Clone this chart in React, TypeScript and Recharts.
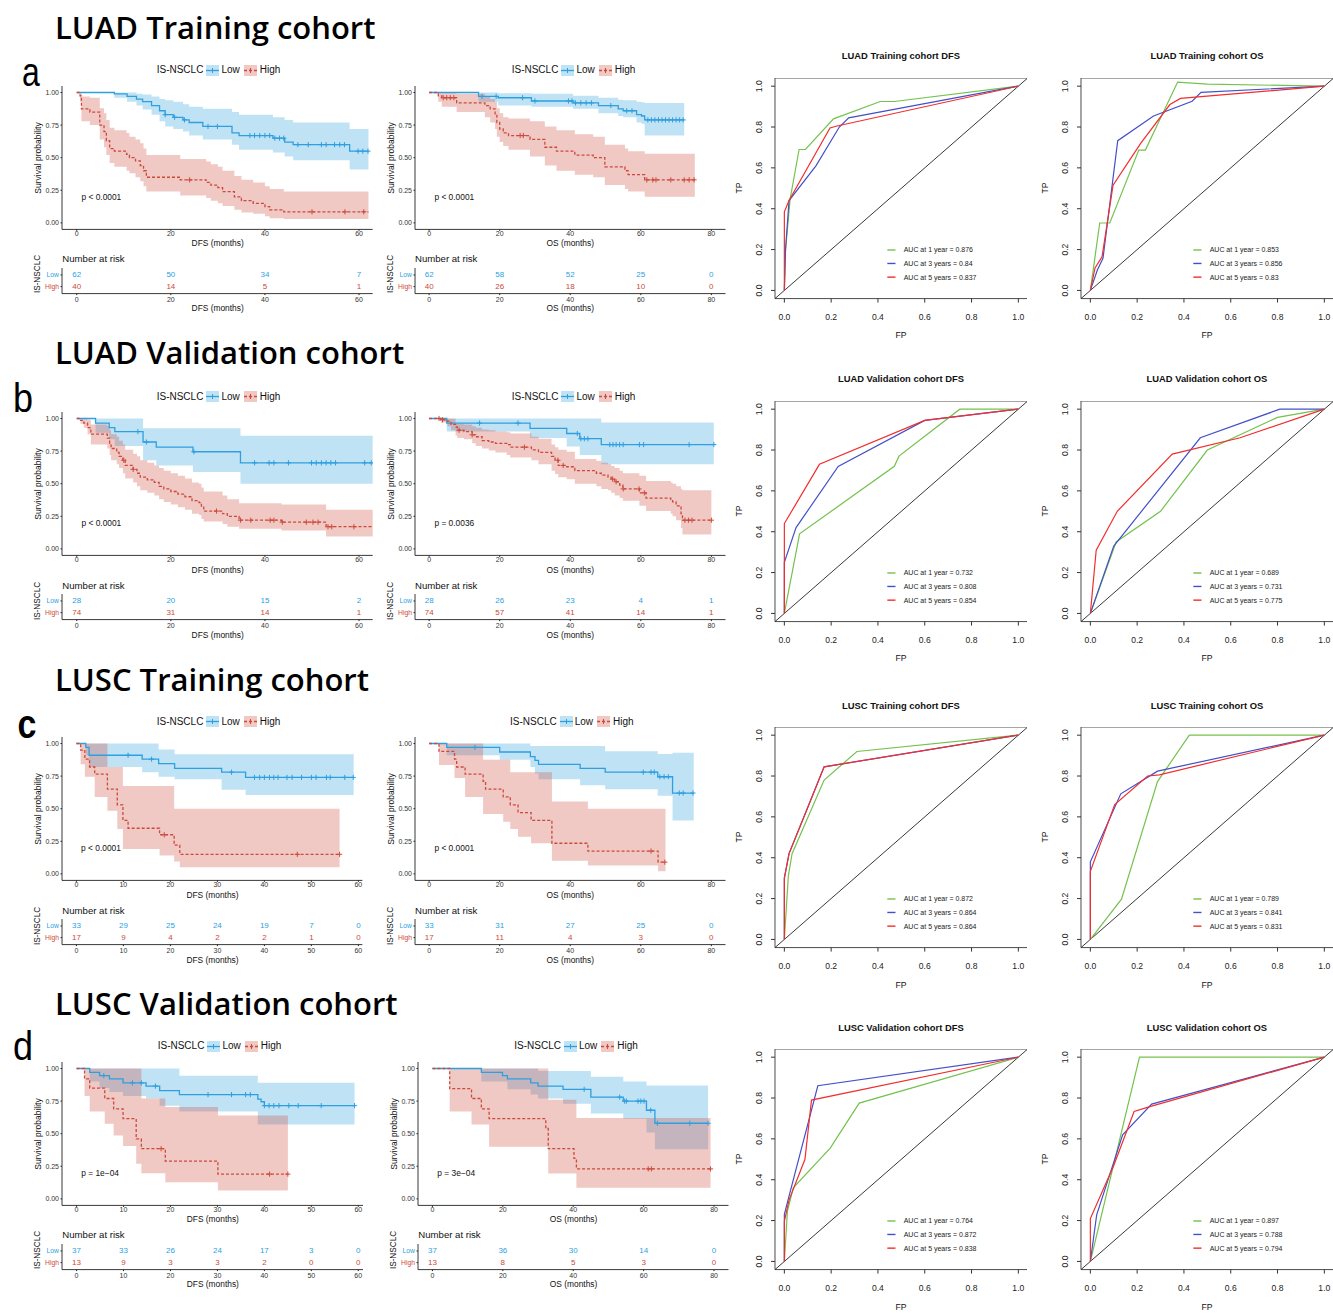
import React from 'react';
import {
  ComposedChart,
  LineChart,
  Line,
  Area,
  Scatter,
  XAxis,
  YAxis,
  ReferenceLine,
  ReferenceArea,
  ReferenceDot,
} from 'recharts';

type Step = [number, number];
type Band = [number, number, number];
type Pt = [number, number];

const FONT = '"Liberation Sans", Arial, Helvetica, sans-serif';
const LOW_COL = '#2E9FDF';
const HIGH_COL = '#CC4A3B';
const ROC_COLS = ['#74c24d', '#4450c8', '#f22e2e'];

const ROW_TITLES = ['LUAD Training cohort', 'LUAD Validation cohort', 'LUSC Training cohort', 'LUSC Validation cohort'];
const LETTERS = ['a', 'b', 'c', 'd'];
const GROUPS = ['Low', 'High'];
const LEGEND_TITLE = 'IS-NSCLC';
const AUC_LABELS = ['AUC at 1 year', 'AUC at 3 years', 'AUC at 5 years'];
const KM_Y_TICKS = [0, 0.25, 0.5, 0.75, 1];
const ROC_TICKS = [0, 0.2, 0.4, 0.6, 0.8, 1];
const T60 = [0, 20, 40, 60];
const T10 = [0, 10, 20, 30, 40, 50, 60];
const T80 = [0, 20, 40, 60, 80];

// ---- a: LUAD training ----
const a1LowSurv: Step[] = [[0, 1], [8, 0.99], [10.7, 0.97], [12.7, 0.95], [14, 0.93], [15.9, 0.9], [17.6, 0.86], [18.8, 0.83], [20.5, 0.81], [22.6, 0.79], [23.9, 0.77], [26.8, 0.74], [33, 0.69], [34.5, 0.67], [41.7, 0.65], [44.2, 0.62], [46, 0.6], [58, 0.55]];
const a1LowBand: Band[] = [[0, 1, 1], [8, 0.96, 1], [10.7, 0.93, 1], [12.7, 0.9, 0.99], [14, 0.87, 0.985], [15.9, 0.83, 0.97], [17.6, 0.78, 0.95], [18.8, 0.74, 0.94], [20.5, 0.72, 0.93], [22.6, 0.7, 0.91], [23.9, 0.67, 0.89], [26.8, 0.64, 0.875], [33, 0.6, 0.85], [34.5, 0.56, 0.83], [41.7, 0.54, 0.81], [44.2, 0.51, 0.79], [46, 0.48, 0.77], [58, 0.41, 0.72]];
const a1LowCens = [18.8, 20.8, 22.9, 27.9, 29.9, 36.8, 37.8, 38.9, 40, 41, 42.1, 43.1, 44, 47, 49.2, 52, 53, 54.8, 55.9, 56.9, 59.8, 60.8, 61.9];
const a1HighSurv: Step[] = [[0, 1], [0.7, 0.975], [1, 0.875], [2.8, 0.85], [4.9, 0.75], [5.8, 0.7], [6.3, 0.63], [7, 0.57], [8, 0.55], [10.6, 0.525], [11.2, 0.5], [12.5, 0.475], [13.5, 0.44], [14.2, 0.4], [14.8, 0.35], [22, 0.33], [27.5, 0.31], [28.5, 0.29], [30, 0.27], [31, 0.24], [33.5, 0.2], [35, 0.17], [37.5, 0.15], [40, 0.125], [41, 0.1], [44, 0.085]];
const a1HighBand: Band[] = [[0, 1, 1], [0.7, 0.93, 1], [1, 0.78, 0.97], [2.8, 0.75, 0.96], [4.9, 0.64, 0.88], [5.8, 0.58, 0.84], [6.3, 0.52, 0.79], [7, 0.46, 0.73], [8, 0.43, 0.71], [10.6, 0.4, 0.69], [11.2, 0.38, 0.66], [12.5, 0.35, 0.64], [13.5, 0.32, 0.61], [14.2, 0.28, 0.57], [14.8, 0.24, 0.52], [22, 0.21, 0.49], [27.5, 0.19, 0.47], [28.5, 0.17, 0.45], [30, 0.15, 0.43], [31, 0.13, 0.4], [33.5, 0.1, 0.36], [35, 0.08, 0.33], [37.5, 0.07, 0.31], [40, 0.05, 0.28], [41, 0.035, 0.26], [44, 0.03, 0.24]];
const a1HighCens = [24, 50, 57, 61];
const a1RiskLow = [62, 50, 34, 7];
const a1RiskHigh = [40, 14, 5, 1];

const a2LowSurv: Step[] = [[0, 1], [14, 0.97], [19.6, 0.96], [29, 0.935], [40.8, 0.92], [48, 0.9], [53.6, 0.875], [55, 0.86], [58.8, 0.83], [60.2, 0.82], [61.1, 0.79]];
const a2LowBand: Band[] = [[0, 1, 1], [14, 0.93, 1], [19.6, 0.9, 0.995], [29, 0.89, 0.99], [40.8, 0.875, 0.975], [48, 0.84, 0.96], [53.6, 0.82, 0.945], [55, 0.81, 0.94], [58.8, 0.77, 0.93], [60.2, 0.76, 0.925], [61.1, 0.67, 0.92]];
const a2LowCens = [15, 19, 26.5, 30, 39.5, 40.5, 41.5, 43, 44.5, 46, 51.5, 56, 57.5, 62, 63, 64, 65, 66, 67, 68, 69, 70, 71, 72];
const a2HighSurv: Step[] = [[0, 1], [2.6, 0.975], [3.6, 0.96], [7.8, 0.92], [15.8, 0.9], [17.3, 0.875], [18.7, 0.83], [19.2, 0.77], [20, 0.72], [21, 0.69], [22.5, 0.67], [28.6, 0.64], [32.8, 0.58], [36.1, 0.55], [41.3, 0.52], [46.5, 0.5], [49.8, 0.43], [55.5, 0.4], [56.4, 0.37], [61.1, 0.33]];
const a2HighBand: Band[] = [[0, 1, 1], [2.6, 0.93, 1], [3.6, 0.89, 1], [7.8, 0.85, 0.99], [15.8, 0.81, 0.97], [17.3, 0.77, 0.95], [18.7, 0.72, 0.93], [19.2, 0.66, 0.88], [20, 0.62, 0.84], [21, 0.59, 0.81], [22.5, 0.56, 0.8], [28.6, 0.51, 0.78], [32.8, 0.44, 0.74], [36.1, 0.4, 0.71], [41.3, 0.37, 0.68], [46.5, 0.35, 0.66], [49.8, 0.29, 0.6], [55.5, 0.26, 0.57], [56.4, 0.24, 0.55], [61.1, 0.2, 0.53]];
const a2HighCens = [4, 5, 6, 7, 25.8, 26.7, 61.7, 63.4, 64.3, 68.5, 72.3, 73.7, 75.1];
const a2RiskLow = [62, 58, 52, 25, 0];
const a2RiskHigh = [40, 26, 18, 10, 0];

// ---- b: LUAD validation ----
const b1LowSurv: Step[] = [[0, 1], [4, 0.965], [6.9, 0.93], [8.1, 0.9], [14.1, 0.82], [16.9, 0.78], [24.7, 0.745], [34.8, 0.66]];
const b1LowBand: Band[] = [[0, 1, 1], [4, 0.89, 1], [6.9, 0.84, 1], [8.1, 0.79, 1], [14.1, 0.68, 0.925], [16.9, 0.64, 0.925], [24.7, 0.59, 0.925], [34.8, 0.5, 0.867]];
const b1LowCens = [13, 14.8, 24.9, 37.8, 40.9, 41.9, 45, 49.9, 50.9, 52, 53, 54, 55, 61.2, 62.6];
const b1HighSurv: Step[] = [[0, 1], [0.8, 0.985], [1.5, 0.965], [2.3, 0.93], [3, 0.88], [6.5, 0.85], [7, 0.81], [7.3, 0.77], [8.5, 0.74], [9, 0.71], [9.8, 0.68], [10.3, 0.64], [12, 0.61], [12.8, 0.58], [13.5, 0.55], [15, 0.53], [16.5, 0.51], [17.5, 0.48], [18.5, 0.46], [20, 0.44], [21.5, 0.42], [23, 0.4], [24.5, 0.37], [26, 0.355], [26.5, 0.32], [27, 0.29], [31, 0.27], [32, 0.25], [34.5, 0.22], [43.5, 0.205], [53, 0.17]];
const b1HighBand: Band[] = [[0, 1, 1], [0.8, 0.96, 1], [1.5, 0.93, 1], [2.3, 0.88, 0.99], [3, 0.8, 0.955], [6.5, 0.77, 0.94], [7, 0.72, 0.91], [7.3, 0.68, 0.88], [8.5, 0.65, 0.86], [9, 0.62, 0.83], [9.8, 0.58, 0.8], [10.3, 0.54, 0.76], [12, 0.51, 0.73], [12.8, 0.48, 0.71], [13.5, 0.45, 0.68], [15, 0.43, 0.66], [16.5, 0.41, 0.64], [17.5, 0.38, 0.62], [18.5, 0.36, 0.6], [20, 0.34, 0.58], [21.5, 0.32, 0.56], [23, 0.3, 0.54], [24.5, 0.27, 0.51], [26, 0.26, 0.5], [26.5, 0.23, 0.47], [27, 0.21, 0.44], [31, 0.19, 0.41], [32, 0.17, 0.38], [34.5, 0.155, 0.35], [43.5, 0.14, 0.34], [53, 0.095, 0.3]];
const b1HighCens = [10, 12, 29.7, 34.8, 37, 41.1, 41.9, 43.7, 48.8, 50.2, 51.3, 53.4, 54.2, 58.9];
const b1RiskLow = [28, 20, 15, 2];
const b1RiskHigh = [74, 31, 14, 1];

const b2LowSurv: Step[] = [[0, 1], [5, 0.965], [28.6, 0.925], [39, 0.885], [42.7, 0.845], [48.8, 0.8]];
const b2LowBand: Band[] = [[0, 1, 1], [5, 0.9, 1], [28.6, 0.85, 1], [39, 0.785, 1], [42.7, 0.72, 1], [48.8, 0.65, 0.97]];
const b2LowCens = [14.3, 25.2, 42, 43, 44, 45, 51.2, 52.1, 53, 54, 55, 59.6, 60.8, 73.7, 80.7];
const b2HighSurv: Step[] = [[0, 1], [3.3, 0.99], [5.2, 0.98], [6.2, 0.955], [7.5, 0.935], [8, 0.91], [9.9, 0.9], [12.2, 0.875], [13.2, 0.86], [15, 0.83], [16.9, 0.82], [18.8, 0.81], [22, 0.8], [23, 0.78], [29, 0.76], [31, 0.74], [34.7, 0.71], [35.7, 0.68], [36.6, 0.64], [39, 0.63], [41.3, 0.6], [47.4, 0.58], [48.8, 0.565], [50.7, 0.55], [51.6, 0.535], [52.6, 0.515], [54, 0.49], [54.9, 0.46], [59.6, 0.43], [61.5, 0.39], [68.5, 0.38], [69, 0.36], [70, 0.33], [71.4, 0.27], [71.8, 0.22]];
const b2HighBand: Band[] = [[0, 1, 1], [3.3, 0.97, 1], [5.2, 0.94, 1], [6.2, 0.91, 1], [7.5, 0.87, 0.96], [8, 0.85, 0.96], [9.9, 0.84, 0.955], [12.2, 0.81, 0.94], [13.2, 0.79, 0.93], [15, 0.77, 0.915], [16.9, 0.755, 0.91], [18.8, 0.74, 0.9], [22, 0.72, 0.895], [23, 0.7, 0.885], [29, 0.68, 0.86], [31, 0.65, 0.845], [34.7, 0.6, 0.8], [35.7, 0.575, 0.78], [36.6, 0.55, 0.76], [39, 0.535, 0.745], [41.3, 0.5, 0.69], [47.4, 0.48, 0.675], [48.8, 0.46, 0.66], [50.7, 0.45, 0.65], [51.6, 0.43, 0.635], [52.6, 0.41, 0.62], [54, 0.39, 0.6], [54.9, 0.37, 0.58], [59.6, 0.33, 0.56], [61.5, 0.29, 0.52], [68.5, 0.27, 0.51], [69, 0.25, 0.5], [70, 0.22, 0.48], [71.4, 0.16, 0.46], [71.8, 0.11, 0.45]];
const b2HighCens = [2.8, 3.8, 8.5, 12.2, 27, 36.5, 38, 52, 53, 55, 59.5, 61, 72.5, 73.5, 74.5, 80];
const b2RiskLow = [28, 26, 23, 4, 1];
const b2RiskHigh = [74, 57, 41, 14, 1];

// ---- c: LUSC training ----
const c1LowSurv: Step[] = [[0, 1], [2, 0.97], [2.7, 0.91], [14, 0.88], [17.5, 0.845], [20.9, 0.81], [30.9, 0.78], [36, 0.74]];
const c1LowBand: Band[] = [[0, 1, 1], [2, 0.91, 1], [2.7, 0.82, 1], [14, 0.78, 1], [17.5, 0.745, 0.955], [20.9, 0.725, 0.918], [30.9, 0.645, 0.918], [36, 0.605, 0.918]];
const c1LowCens = [11, 16, 33, 37.9, 39, 40, 41.1, 42, 42.9, 44.8, 45.9, 47.9, 50, 51, 53.2, 54, 57.1, 58.9];
const c1HighSurv: Step[] = [[0, 1], [0.9, 0.95], [1.8, 0.88], [2.8, 0.82], [3.9, 0.765], [6.6, 0.65], [8.7, 0.53], [9.9, 0.41], [11, 0.35], [17.7, 0.3], [20.8, 0.22], [22, 0.15]];
const c1HighBand: Band[] = [[0, 1, 1], [0.9, 0.84, 1], [1.8, 0.745, 1], [3.9, 0.59, 1], [6.6, 0.485, 0.82], [8.7, 0.345, 0.82], [9.9, 0.19, 0.675], [17.7, 0.14, 0.675], [20.8, 0.095, 0.5], [22, 0.05, 0.5]];
const c1HighCens = [18.7, 47, 56];
const c1RiskLow = [33, 29, 25, 24, 19, 7, 0];
const c1RiskHigh = [17, 9, 4, 2, 2, 1, 0];

const c2LowSurv: Step[] = [[0, 1], [5, 0.97], [20, 0.935], [28.7, 0.9], [30, 0.87], [31, 0.84], [42.8, 0.81], [49.9, 0.78], [64.8, 0.745], [69, 0.62]];
const c2LowBand: Band[] = [[0, 1, 1], [5, 0.91, 1], [20, 0.875, 1], [28.7, 0.82, 0.98], [30, 0.77, 0.98], [31, 0.725, 0.98], [42.8, 0.68, 0.98], [49.9, 0.65, 0.94], [64.8, 0.6, 0.92], [69, 0.41, 0.93]];
const c2LowCens = [13, 60.7, 62.9, 63.8, 65.4, 66.6, 67.8, 70.9, 72, 74.8];
const c2HighSurv: Step[] = [[0, 1], [2.8, 0.94], [7.2, 0.88], [7.8, 0.82], [10.2, 0.765], [15.3, 0.71], [16, 0.65], [21, 0.59], [23, 0.53], [25.2, 0.47], [28.9, 0.41], [34.8, 0.235], [45, 0.175], [64.9, 0.09]];
const c2HighBand: Band[] = [[0, 1, 1], [2.8, 0.835, 1], [7.2, 0.735, 1], [10.2, 0.59, 1], [15.3, 0.46, 0.875], [21, 0.4, 0.875], [23, 0.345, 0.78], [25.2, 0.285, 0.78], [28.9, 0.235, 0.78], [34.8, 0.1, 0.555], [45, 0.064, 0.5], [64.9, 0.02, 0.5]];
const c2HighCens = [62.9, 66.8];
const c2RiskLow = [33, 31, 27, 25, 0];
const c2RiskHigh = [17, 11, 4, 3, 0];

// ---- d: LUSC validation ----
const d1LowSurv: Step[] = [[0, 1], [2.8, 0.97], [4.9, 0.945], [7, 0.92], [9.9, 0.89], [14.8, 0.865], [17.7, 0.83], [21.9, 0.8], [38.6, 0.765], [39.3, 0.745], [40, 0.715]];
const d1LowBand: Band[] = [[0, 1, 1], [2.8, 0.9, 1], [4.9, 0.85, 1], [7, 0.82, 1], [9.9, 0.79, 1], [14.8, 0.77, 1], [17.7, 0.715, 1], [21.9, 0.67, 0.944], [38.6, 0.57, 0.89]];
const d1LowCens = [5.8, 11.9, 13.8, 16.8, 28, 33, 36, 37, 40, 41, 42, 43.1, 45.2, 47.2, 52.1, 59.2];
const d1HighSurv: Step[] = [[0, 1], [1.7, 0.92], [2.8, 0.85], [6, 0.77], [7.9, 0.69], [9.9, 0.615], [12.7, 0.46], [13.8, 0.385], [18.9, 0.29], [30.1, 0.19]];
const d1HighBand: Band[] = [[0, 1, 1], [1.7, 0.79, 1], [2.8, 0.67, 1], [6, 0.577, 1], [7.9, 0.487, 1], [9.9, 0.405, 1], [12.7, 0.27, 1], [13.8, 0.197, 0.77], [18.9, 0.128, 0.705], [30.1, 0.064, 0.64]];
const d1HighCens = [18, 41.1, 45];
const d1RiskLow = [37, 33, 26, 24, 17, 3, 0];
const d1RiskHigh = [13, 9, 3, 3, 2, 0, 0];

const d2LowSurv: Step[] = [[0, 1], [13.9, 0.97], [19.9, 0.945], [21.3, 0.92], [27.9, 0.89], [30, 0.865], [37.1, 0.84], [45, 0.78], [54.2, 0.75], [60.8, 0.68], [63.2, 0.58]];
const d2LowBand: Band[] = [[0, 1, 1], [13.9, 0.9, 1], [21.3, 0.84, 1], [27.9, 0.8, 1], [30, 0.77, 0.98], [37.1, 0.73, 0.98], [45, 0.655, 0.936], [54.2, 0.615, 0.9], [60.8, 0.51, 0.87], [63.2, 0.38, 0.87]];
const d2LowCens = [43.1, 53.2, 54.6, 55.1, 58.4, 59.2, 60.1, 62, 63.9, 73.1, 78.3];
const d2HighSurv: Step[] = [[0, 1], [4.9, 0.845], [11.1, 0.77], [13.9, 0.69], [16.1, 0.615], [32.2, 0.54], [32.9, 0.385], [40.2, 0.31], [40.9, 0.23]];
const d2HighBand: Band[] = [[0, 1, 1], [4.9, 0.67, 1], [11.1, 0.57, 1], [16.1, 0.4, 1], [32.9, 0.195, 0.76], [40.9, 0.085, 0.62]];
const d2HighCens = [61.3, 62.2, 79];
const d2RiskLow = [37, 36, 30, 14, 0];
const d2RiskHigh = [13, 8, 5, 3, 0];

// ---- ROC curves (FP, TP): green = 1 yr, blue = 3 yr, red = 5 yr ----
const rocA1: Pt[][] = [
  [[0, 0], [0.005, 0.2], [0.025, 0.45], [0.063, 0.69], [0.09, 0.69], [0.21, 0.84], [0.41, 0.925], [0.47, 0.925], [1, 1]],
  [[0, 0], [0.005, 0.2], [0.02, 0.44], [0.135, 0.61], [0.235, 0.8], [0.275, 0.845], [1, 1]],
  [[0, 0], [0, 0.385], [0.02, 0.44], [0.195, 0.795], [0.225, 0.805], [1, 1]],
];
const rocA2: Pt[][] = [
  [[0, 0], [0.04, 0.33], [0.083, 0.33], [0.207, 0.687], [0.235, 0.687], [0.373, 1.02], [0.5, 1.01], [1, 1]],
  [[0, 0], [0.03, 0.1], [0.054, 0.157], [0.117, 0.733], [0.27, 0.854], [0.435, 0.926], [0.473, 0.97], [1, 1]],
  [[0, 0], [0.02, 0.11], [0.05, 0.165], [0.097, 0.515], [0.215, 0.72], [0.34, 0.91], [0.385, 0.94], [1, 1]],
];
const rocB1: Pt[][] = [
  [[0, 0], [0.065, 0.39], [0.47, 0.72], [0.49, 0.77], [0.75, 1], [1, 1]],
  [[0, 0], [0, 0.25], [0.05, 0.42], [0.23, 0.72], [0.6, 0.945], [1, 1]],
  [[0, 0], [0, 0.44], [0.15, 0.73], [0.6, 0.945], [1, 1]],
];
const rocB2: Pt[][] = [
  [[0, 0], [0.11, 0.35], [0.3, 0.5], [0.5, 0.8], [0.8, 0.96], [1, 1]],
  [[0, 0], [0.1, 0.33], [0.47, 0.86], [0.81, 1], [1, 1]],
  [[0, 0], [0.025, 0.31], [0.115, 0.5], [0.35, 0.78], [0.64, 0.86], [1, 1]],
];
const rocC1: Pt[][] = [
  [[0, 0], [0.017, 0.31], [0.033, 0.42], [0.17, 0.78], [0.31, 0.92], [1, 1]],
  [[0, 0], [0, 0.3], [0.02, 0.42], [0.096, 0.635], [0.17, 0.845], [1, 1]],
  [[0, 0], [0, 0.3], [0.02, 0.42], [0.096, 0.635], [0.17, 0.845], [1, 1]],
];
const rocC2: Pt[][] = [
  [[0, 0], [0.133, 0.197], [0.287, 0.773], [0.423, 1], [1, 1]],
  [[0, 0], [0, 0.38], [0.13, 0.713], [0.287, 0.824], [1, 1]],
  [[0, 0], [0, 0.333], [0.104, 0.66], [0.245, 0.8], [0.295, 0.806], [1, 1]],
];
const rocD1: Pt[][] = [
  [[0, 0], [0.013, 0.245], [0.038, 0.36], [0.196, 0.555], [0.32, 0.775], [1, 1]],
  [[0, 0], [0, 0.23], [0.02, 0.32], [0.143, 0.86], [1, 1]],
  [[0, 0], [0, 0.196], [0.02, 0.3], [0.088, 0.5], [0.116, 0.79], [1, 1]],
];
const rocD2: Pt[][] = [
  [[0, 0], [0.21, 1], [1, 1]],
  [[0, 0], [0.027, 0.228], [0.138, 0.62], [0.262, 0.77], [1, 1]],
  [[0, 0], [0, 0.21], [0.1, 0.47], [0.187, 0.734], [0.254, 0.758], [1, 1]],
];
const aucA1 = ['0.876', '0.84', '0.837'];
const aucA2 = ['0.853', '0.856', '0.83'];
const aucB1 = ['0.732', '0.808', '0.854'];
const aucB2 = ['0.689', '0.731', '0.775'];
const aucC1 = ['0.872', '0.864', '0.864'];
const aucC2 = ['0.789', '0.841', '0.831'];
const aucD1 = ['0.764', '0.872', '0.838'];
const aucD2 = ['0.897', '0.788', '0.794'];

// layout
const KM_OFF = [0, 326.5, 651.5, 976];
const ROC_OFF = [0, 323, 649.6, 971.6];

function survAt(steps: Step[], t: number) {
  let s = 1;
  for (const [tt, v] of steps) if (tt <= t) s = v;
  return s;
}
const stepData = (steps: Step[], end: number) => [
  ...steps.map(([t, s]) => ({ t, s })),
  { t: end, s: steps[steps.length - 1][1] },
];
const bandData = (band: Band[], end: number) => {
  const last = band[band.length - 1];
  return [...band.map(([t, lo, hi]) => ({ t, ci: [lo, hi] })), { t: end, ci: [last[1], last[2]] }];
};
const censData = (steps: Step[], cens: number[]) => cens.map((t) => ({ t, s: survAt(steps, t) }));

function Txt({ x, y, children, size, rot = 0, anchor = 'middle', weight = 400, family = FONT, color = '#111', scaleX = 1 }: any) {
  const tx = anchor === 'middle' ? '-50%' : anchor === 'end' ? '-100%' : '0%';
  return (
    <div style={{
      position: 'absolute', left: x, top: y, fontFamily: family, fontSize: size, fontWeight: weight,
      color, lineHeight: 1, whiteSpace: 'nowrap',
      transform: `translate(${tx}, -50%) rotate(${rot}deg) scaleX(${scaleX})`,
    }}>
      {children}
    </div>
  );
}

const plusShape = (color: string) => (props: any) => {
  const { cx, cy } = props;
  if (cx == null || cy == null) return null;
  return (
    <g stroke={color} strokeWidth={1}>
      <line x1={cx - 2.6} x2={cx + 2.6} y1={cy} y2={cy} />
      <line x1={cx} x2={cx} y1={cy - 2.6} y2={cy + 2.6} />
    </g>
  );
};

const riskText = (color: string) => (props: any) => {
  const { cx, cy, payload } = props;
  if (cx == null || cy == null) return null;
  return (
    <text x={cx} y={cy} textAnchor="middle" dominantBaseline="central" fontSize={8} fontFamily={FONT} fill={color}>
      {payload.n}
    </text>
  );
};

function RiskTick(props: any) {
  const { x, y, payload } = props;
  const low = payload.value === 2;
  return (
    <text x={x} y={y} dy="0.35em" textAnchor="end" fontSize={6.8} fontFamily={FONT} fill={low ? LOW_COL : HIGH_COL}>
      {low ? GROUPS[0] : GROUPS[1]}
    </text>
  );
}

function RotTick(props: any) {
  const { x, y, payload } = props;
  return (
    <text x={x} y={y} transform={`rotate(-90 ${x} ${y})`} textAnchor="middle" fontSize={8.6} fontFamily={FONT} fill="#222">
      {Number(payload.value).toFixed(1)}
    </text>
  );
}

function Key({ color, dashed, ml }: { color: string; dashed: boolean; ml: number }) {
  return (
    <svg width={13} height={11} style={{ marginLeft: ml, display: 'block' }}>
      <rect x={0} y={0} width={13} height={11} fill={color} fillOpacity={0.3} />
      <line x1={0} x2={13} y1={5.5} y2={5.5} stroke={color} strokeWidth={1.3} strokeDasharray={dashed ? '3 2' : undefined} />
      <line x1={6.5} x2={6.5} y1={3} y2={8} stroke={color} strokeWidth={1} />
    </svg>
  );
}

function KMLegend({ left, y }: { left: number; y: number }) {
  return (
    <div style={{
      position: 'absolute', left, top: y - 6, height: 12, display: 'flex', alignItems: 'center',
      fontFamily: FONT, fontSize: 10, color: '#111', whiteSpace: 'nowrap', lineHeight: 1,
    }}>
      <span>{LEGEND_TITLE}</span>
      <Key color={LOW_COL} dashed={false} ml={3} />
      <span style={{ marginLeft: 2 }}>{GROUPS[0]}</span>
      <Key color={HIGH_COL} dashed ml={4} />
      <span style={{ marginLeft: 3 }}>{GROUPS[1]}</span>
    </div>
  );
}

interface Group { surv: Step[]; band: Band[]; cens: number[]; end: number }
interface KMProps {
  row: number; plotLeft: number; plotW: number; domain: [number, number]; ticks: number[];
  xLabel: string; low: Group; high: Group; riskLow: number[]; riskHigh: number[];
  pText: string; pX: number; legendLeft: number;
}

const axisTick = { fontSize: 7, fill: '#333', fontFamily: FONT };

function KM(p: KMProps) {
  const off = KM_OFF[p.row];
  const YW = 30;
  const XH = 14;
  const plotTop = 85.8 + off;
  const plotH = 143.4;
  const riskTop = 267.7 + off;
  const riskH = 25.6;
  const mid = p.plotLeft + p.plotW / 2;
  return (
    <>
      <KMLegend left={p.legendLeft} y={70 + off} />
      <Txt x={p.plotLeft - 24} y={157.5 + off} size={8.5} rot={-90}>Survival probability</Txt>
      <div style={{ position: 'absolute', left: p.plotLeft - YW, top: plotTop }}>
        <ComposedChart width={YW + p.plotW} height={plotH + XH} margin={{ top: 0, right: 0, bottom: 0, left: 0 }}>
          <XAxis dataKey="t" type="number" domain={p.domain} allowDataOverflow ticks={p.ticks} interval={0}
            height={XH} tickSize={1.5} tickMargin={0} tick={axisTick}
            axisLine={{ stroke: '#222', strokeWidth: 0.9 }} tickLine={{ stroke: '#222' }} />
          <YAxis type="number" domain={[-0.05, 1.05]} allowDataOverflow ticks={KM_Y_TICKS} interval={0}
            tickFormatter={(v: number) => v.toFixed(2)} width={YW} tickSize={1.5} tickMargin={1.5} tick={axisTick}
            axisLine={{ stroke: '#222', strokeWidth: 0.9 }} tickLine={{ stroke: '#222' }} />
          <Area data={bandData(p.low.band, p.low.end)} dataKey="ci" type="stepAfter" fill={LOW_COL}
            fillOpacity={0.3} stroke="none" isAnimationActive={false} activeDot={false} />
          <Area data={bandData(p.high.band, p.high.end)} dataKey="ci" type="stepAfter" fill={HIGH_COL}
            fillOpacity={0.3} stroke="none" isAnimationActive={false} activeDot={false} />
          <Line data={stepData(p.low.surv, p.low.end)} dataKey="s" type="stepAfter" stroke={LOW_COL}
            strokeWidth={1.3} dot={false} activeDot={false} isAnimationActive={false} />
          <Line data={stepData(p.high.surv, p.high.end)} dataKey="s" type="stepAfter" stroke={HIGH_COL}
            strokeWidth={1.3} strokeDasharray="3 2" dot={false} activeDot={false} isAnimationActive={false} />
          <Scatter data={censData(p.low.surv, p.low.cens)} dataKey="s" shape={plusShape(LOW_COL)} isAnimationActive={false} />
          <Scatter data={censData(p.high.surv, p.high.cens)} dataKey="s" shape={plusShape(HIGH_COL)} isAnimationActive={false} />
          <ReferenceDot x={p.pX} y={0.2} r={0.01} fill="none" stroke="none"
            label={{ value: p.pText, position: 'right', offset: 0, fontSize: 8.4, fill: '#111', fontFamily: FONT }} />
        </ComposedChart>
      </div>
      <Txt x={mid} y={243 + off} size={8.4}>{p.xLabel}</Txt>

      <Txt x={p.plotLeft} y={259 + off} size={9.6} anchor="start">Number at risk</Txt>
      <Txt x={p.plotLeft - 24} y={274 + off} size={8.2} rot={-90}>{LEGEND_TITLE}</Txt>
      <div style={{ position: 'absolute', left: p.plotLeft - YW, top: riskTop }}>
        <ComposedChart width={YW + p.plotW} height={riskH + 12} margin={{ top: 0, right: 0, bottom: 0, left: 0 }}>
          <XAxis dataKey="t" type="number" domain={p.domain} allowDataOverflow ticks={p.ticks} interval={0}
            height={12} tickSize={1.5} tickMargin={1.5} tick={axisTick}
            axisLine={{ stroke: '#222', strokeWidth: 0.9 }} tickLine={{ stroke: '#222' }} />
          <YAxis type="number" domain={[0.4, 2.6]} allowDataOverflow ticks={[1, 2]} interval={0} width={YW}
            tickSize={1.5} tickMargin={1.5} tick={<RiskTick />}
            axisLine={{ stroke: '#222', strokeWidth: 0.9 }} tickLine={{ stroke: '#222' }} />
          <Scatter data={p.ticks.map((t, i) => ({ t, row: 2, n: p.riskLow[i] }))} dataKey="row"
            shape={riskText(LOW_COL)} isAnimationActive={false} />
          <Scatter data={p.ticks.map((t, i) => ({ t, row: 1, n: p.riskHigh[i] }))} dataKey="row"
            shape={riskText(HIGH_COL)} isAnimationActive={false} />
        </ComposedChart>
      </div>
      <Txt x={mid} y={308 + off} size={8.4}>{p.xLabel}</Txt>
    </>
  );
}

interface ROCProps { row: number; plotLeft: number; title: string; curves: Pt[][]; aucs: string[] }

function ROC(p: ROCProps) {
  const off = ROC_OFF[p.row];
  const YW = 36;
  const XH = 26;
  const plotTop = 77.5 + off;
  const plotH = 220.6;
  const plotW = 252.7;
  const legendRows = [0.198, 0.132, 0.065];
  return (
    <>
      <Txt x={p.plotLeft + plotW / 2} y={56 + off} size={9.4} weight={700}>{p.title}</Txt>
      <Txt x={p.plotLeft - 35.3} y={plotTop + plotH / 2} size={8.6} rot={-90}>TP</Txt>
      <Txt x={p.plotLeft + plotW / 2} y={335 + off} size={8.6}>FP</Txt>
      <div style={{ position: 'absolute', left: p.plotLeft - YW, top: plotTop }}>
        <LineChart width={YW + plotW} height={plotH + XH} margin={{ top: 0, right: 0, bottom: 0, left: 0 }}>
          <XAxis dataKey="fp" type="number" domain={[-0.04, 1.04]} allowDataOverflow ticks={ROC_TICKS} interval={0}
            tickFormatter={(v: number) => v.toFixed(1)} height={XH} tickSize={4} tickMargin={11}
            axisLine={false} tickLine={{ stroke: '#333' }} tick={{ fontSize: 8.6, fill: '#222', fontFamily: FONT }} />
          <YAxis type="number" domain={[-0.04, 1.04]} allowDataOverflow ticks={ROC_TICKS} interval={0}
            width={YW} tickSize={4} tickMargin={9.2} axisLine={false} tickLine={{ stroke: '#333' }} tick={<RotTick />} />
          <ReferenceArea x1={-0.04} x2={1.04} y1={-0.04} y2={1.04} fill="none" fillOpacity={0}
            stroke="#4a4a4a" strokeWidth={1} ifOverflow="visible" />
          <ReferenceLine segment={[{ x: -0.04, y: -0.04 }, { x: 1.04, y: 1.04 }]} stroke="#222" strokeWidth={0.9} ifOverflow="visible" />
          {p.curves.map((c, i) => (
            <Line key={i} data={c.map(([fp, tp]) => ({ fp, tp }))} dataKey="tp" type="linear" stroke={ROC_COLS[i]}
              strokeWidth={1.2} dot={false} activeDot={false} isAnimationActive={false} />
          ))}
          {legendRows.map((y, i) => (
            <ReferenceLine key={`k${i}`} segment={[{ x: 0.44, y }, { x: 0.475, y }]} stroke={ROC_COLS[i]} strokeWidth={1.4} />
          ))}
          {legendRows.map((y, i) => (
            <ReferenceDot key={`t${i}`} x={0.51} y={y} r={0.01} fill="none" stroke="none"
              label={{ value: `${AUC_LABELS[i]} = ${p.aucs[i]}`, position: 'right', offset: 0, fontSize: 7, fill: '#222', fontFamily: FONT }} />
          ))}
        </LineChart>
      </div>
    </>
  );
}

const LEFT = 62.3;
const RIGHT = 415;

export default function App() {
  return (
    <div style={{ position: 'absolute', left: 0, top: 0, width: 1333, height: 1313, overflow: 'hidden', background: '#fff' }}>
      {ROW_TITLES.map((t, i) => (
        <Txt key={t} x={55} y={27 + KM_OFF[i] - (i === 1 ? 1.5 : 0)} size={31} weight={600} family='"Open Sans", Lato, sans-serif' anchor="start" color="#000">
          {t}
        </Txt>
      ))}
      <Txt x={31} y={72} size={40} scaleX={0.8} color="#000">{LETTERS[0]}</Txt>
      <Txt x={23} y={398} size={40} scaleX={0.9} color="#000">{LETTERS[1]}</Txt>
      <Txt x={27} y={724} size={40} weight={700} scaleX={0.85} color="#000">{LETTERS[2]}</Txt>
      <Txt x={23} y={1046} size={40} scaleX={0.9} color="#000">{LETTERS[3]}</Txt>

      <KM row={0} plotLeft={LEFT} plotW={310.7} domain={[-3.13, 62.9]} ticks={T60} xLabel="DFS (months)"
        low={{ surv: a1LowSurv, band: a1LowBand, cens: a1LowCens, end: 62 }}
        high={{ surv: a1HighSurv, band: a1HighBand, cens: a1HighCens, end: 62 }}
        riskLow={a1RiskLow} riskHigh={a1RiskHigh} pText="p < 0.0001" pX={1} legendLeft={156.7} />
      <KM row={0} plotLeft={RIGHT} plotW={310.5} domain={[-4, 84]} ticks={T80} xLabel="OS (months)"
        low={{ surv: a2LowSurv, band: a2LowBand, cens: a2LowCens, end: 72.3 }}
        high={{ surv: a2HighSurv, band: a2HighBand, cens: a2HighCens, end: 75.3 }}
        riskLow={a2RiskLow} riskHigh={a2RiskHigh} pText="p < 0.0001" pX={1.5} legendLeft={511.7} />

      <KM row={1} plotLeft={LEFT} plotW={310.7} domain={[-3.13, 62.9]} ticks={T60} xLabel="DFS (months)"
        low={{ surv: b1LowSurv, band: b1LowBand, cens: b1LowCens, end: 63 }}
        high={{ surv: b1HighSurv, band: b1HighBand, cens: b1HighCens, end: 63 }}
        riskLow={b1RiskLow} riskHigh={b1RiskHigh} pText="p < 0.0001" pX={1} legendLeft={156.7} />
      <KM row={1} plotLeft={RIGHT} plotW={310.5} domain={[-4, 84]} ticks={T80} xLabel="OS (months)"
        low={{ surv: b2LowSurv, band: b2LowBand, cens: b2LowCens, end: 80.7 }}
        high={{ surv: b2HighSurv, band: b2HighBand, cens: b2HighCens, end: 80 }}
        riskLow={b2RiskLow} riskHigh={b2RiskHigh} pText="p = 0.0036" pX={1.5} legendLeft={511.7} />

      <KM row={2} plotLeft={LEFT} plotW={300.4} domain={[-3.06, 60.85]} ticks={T10} xLabel="DFS (months)"
        low={{ surv: c1LowSurv, band: c1LowBand, cens: c1LowCens, end: 59 }}
        high={{ surv: c1HighSurv, band: c1HighBand, cens: c1HighCens, end: 56 }}
        riskLow={c1RiskLow} riskHigh={c1RiskHigh} pText="p < 0.0001" pX={1} legendLeft={156.7} />
      <KM row={2} plotLeft={RIGHT} plotW={310.5} domain={[-4, 84]} ticks={T80} xLabel="OS (months)"
        low={{ surv: c2LowSurv, band: c2LowBand, cens: c2LowCens, end: 75 }}
        high={{ surv: c2HighSurv, band: c2HighBand, cens: c2HighCens, end: 67 }}
        riskLow={c2RiskLow} riskHigh={c2RiskHigh} pText="p < 0.0001" pX={1.5} legendLeft={510} />

      <KM row={3} plotLeft={LEFT} plotW={301} domain={[-3.1, 61]} ticks={T10} xLabel="DFS (months)"
        low={{ surv: d1LowSurv, band: d1LowBand, cens: d1LowCens, end: 59.2 }}
        high={{ surv: d1HighSurv, band: d1HighBand, cens: d1HighCens, end: 45 }}
        riskLow={d1RiskLow} riskHigh={d1RiskHigh} pText="p = 1e−04" pX={1} legendLeft={157.7} />
      <KM row={3} plotLeft={418.3} plotW={310.5} domain={[-4.1, 84.1]} ticks={T80} xLabel="OS (months)"
        low={{ surv: d2LowSurv, band: d2LowBand, cens: d2LowCens, end: 78.3 }}
        high={{ surv: d2HighSurv, band: d2HighBand, cens: d2HighCens, end: 79 }}
        riskLow={d2RiskLow} riskHigh={d2RiskHigh} pText="p = 3e−04" pX={1.4} legendLeft={514.3} />

      <ROC row={0} plotLeft={774.6} title={`${ROW_TITLES[0]} DFS`} curves={rocA1} aucs={aucA1} />
      <ROC row={0} plotLeft={1080.6} title={`${ROW_TITLES[0]} OS`} curves={rocA2} aucs={aucA2} />
      <ROC row={1} plotLeft={774.6} title={`${ROW_TITLES[1]} DFS`} curves={rocB1} aucs={aucB1} />
      <ROC row={1} plotLeft={1080.6} title={`${ROW_TITLES[1]} OS`} curves={rocB2} aucs={aucB2} />
      <ROC row={2} plotLeft={774.6} title={`${ROW_TITLES[2]} DFS`} curves={rocC1} aucs={aucC1} />
      <ROC row={2} plotLeft={1080.6} title={`${ROW_TITLES[2]} OS`} curves={rocC2} aucs={aucC2} />
      <ROC row={3} plotLeft={774.6} title={`${ROW_TITLES[3]} DFS`} curves={rocD1} aucs={aucD1} />
      <ROC row={3} plotLeft={1080.6} title={`${ROW_TITLES[3]} OS`} curves={rocD2} aucs={aucD2} />
    </div>
  );
}
